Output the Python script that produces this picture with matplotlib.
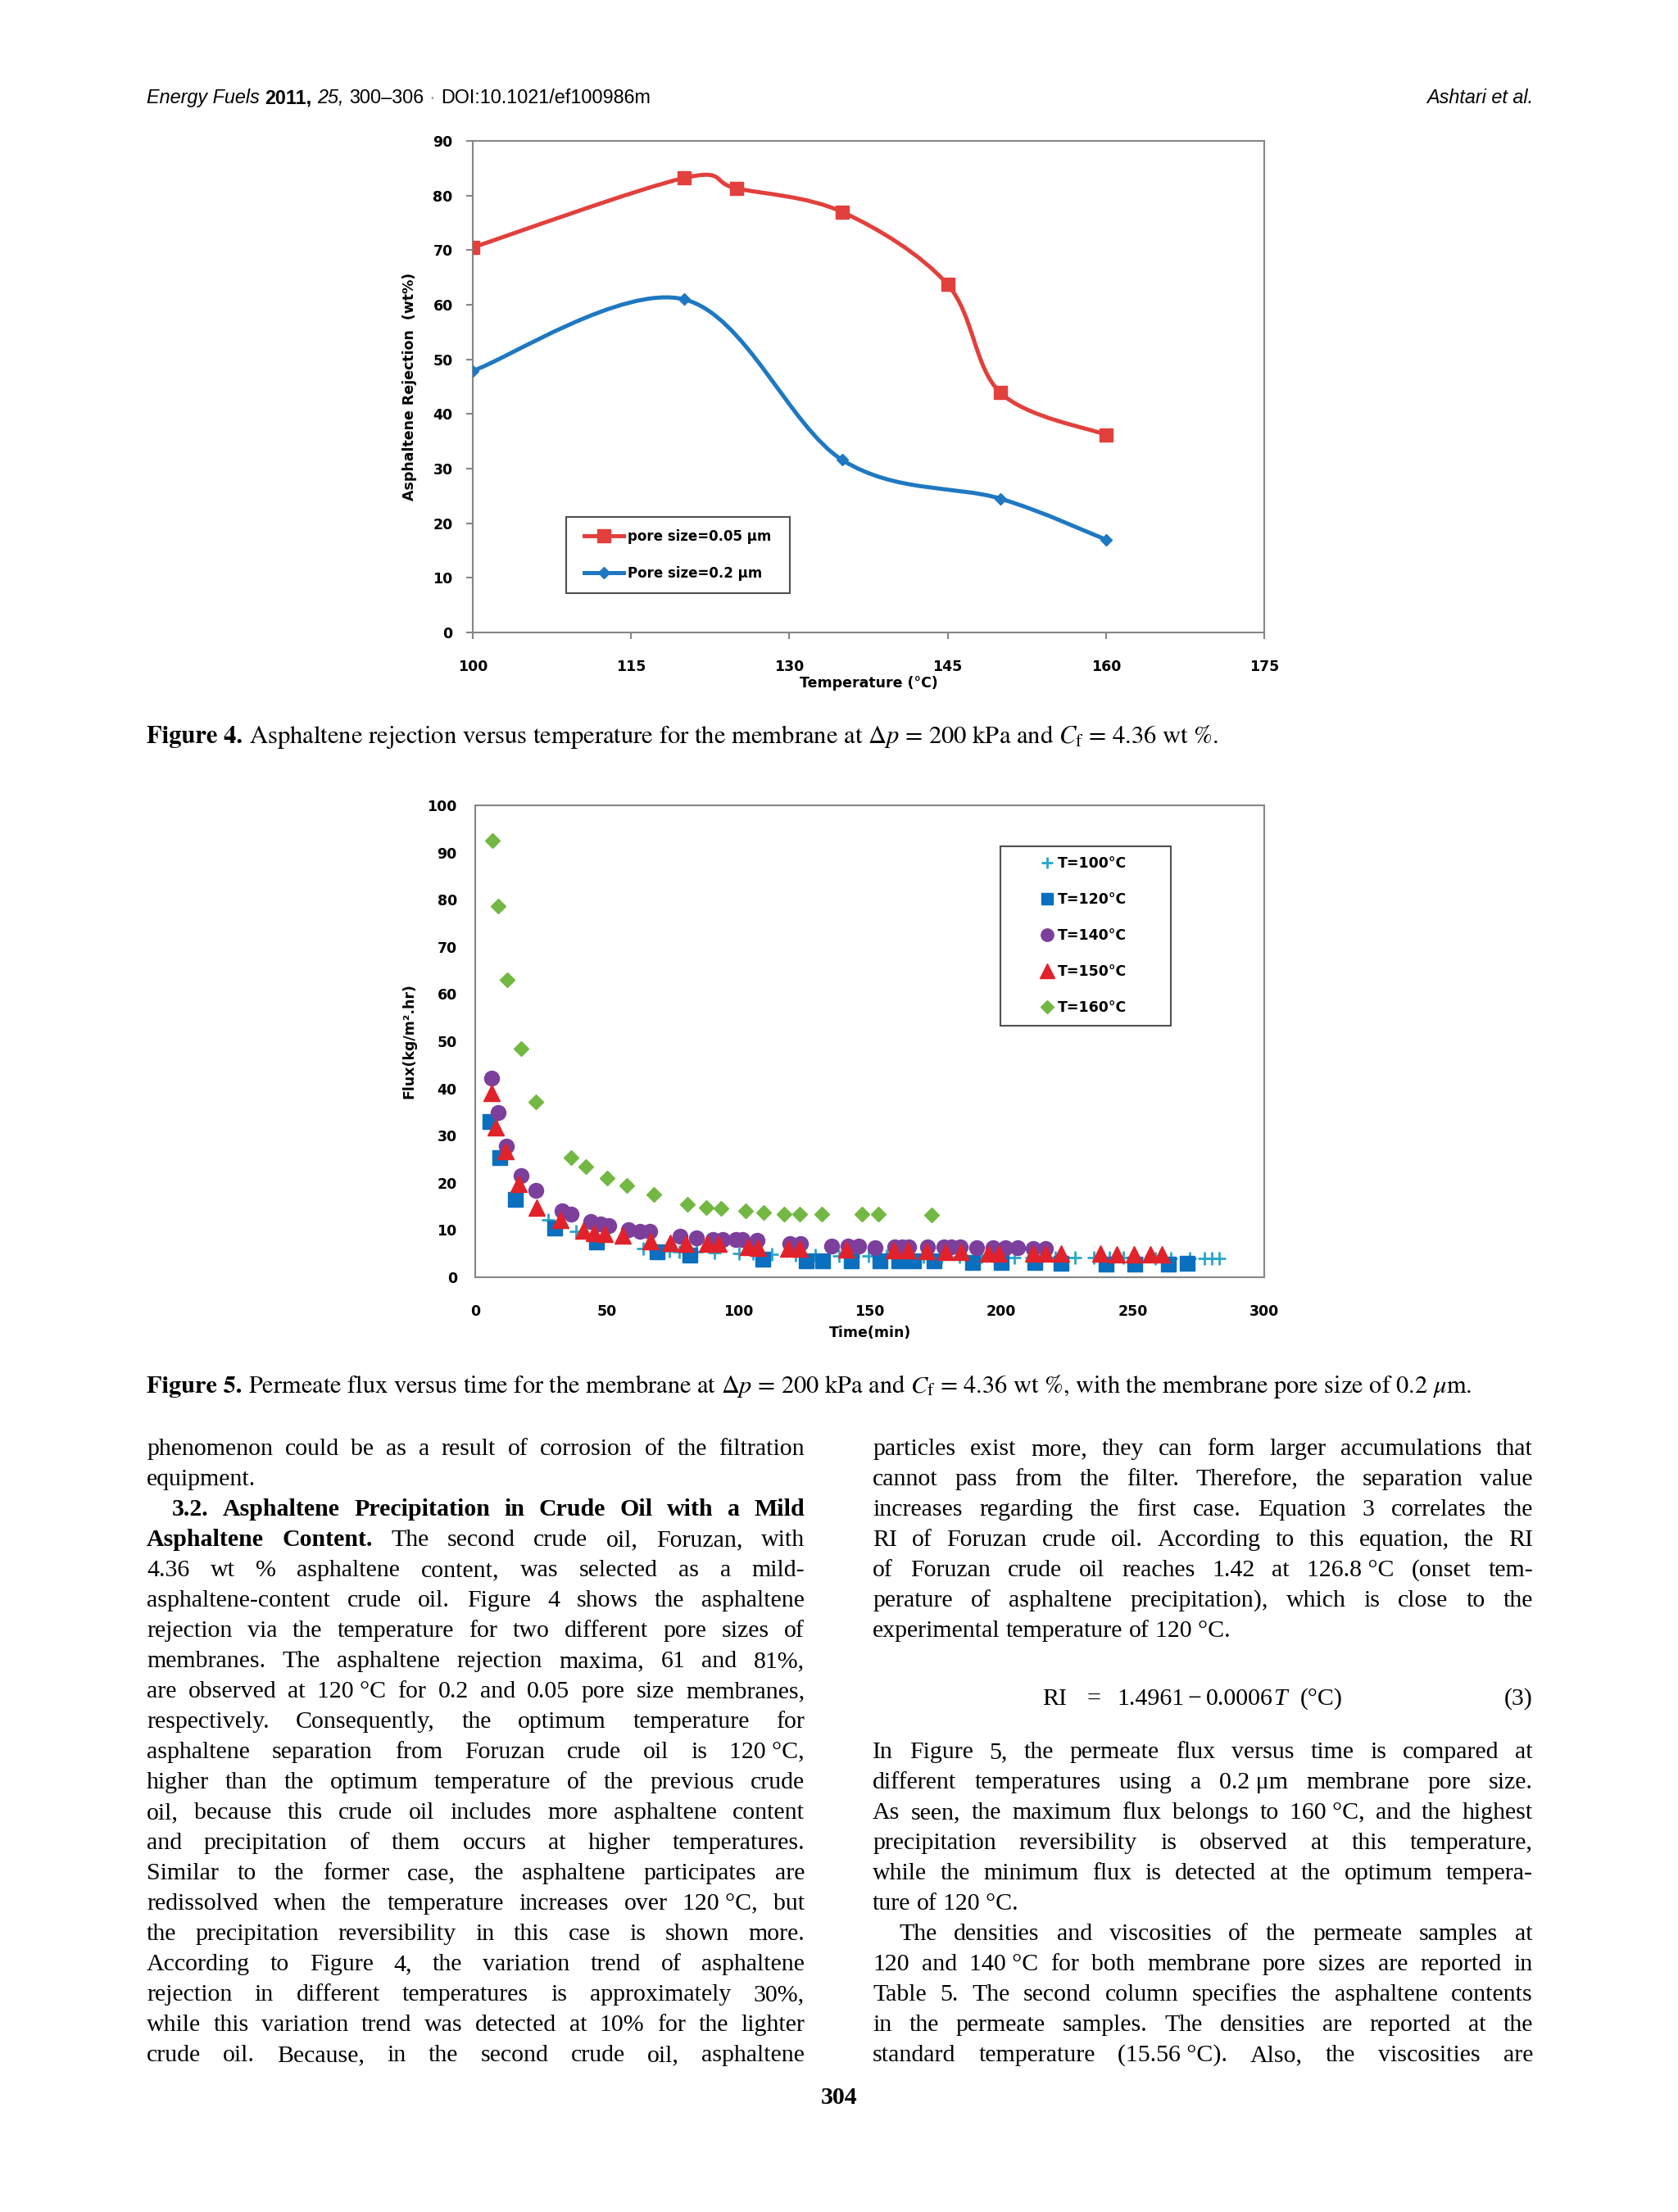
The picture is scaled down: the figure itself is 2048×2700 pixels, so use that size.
import numpy as np
import matplotlib
matplotlib.use('Agg')
import matplotlib.pyplot as plt
from matplotlib.path import Path
from matplotlib.patches import PathPatch, Rectangle
from matplotlib.transforms import Affine2D
from matplotlib.lines import Line2D

plt.rcParams['mathtext.fontset'] = 'stix'

# ---- Figure 4 data: asphaltene rejection (wt%) vs temperature (C)
temp_005 = [100, 120, 125, 135, 145, 150, 160]
rej_005 = [70.5, 83.2, 81.3, 77.0, 63.7, 43.9, 36.2]
temp_02 = [100, 120, 135, 150, 160]
rej_02 = [47.9, 61.0, 31.6, 24.5, 17.0]
fig4_labels = ['pore size=0.05 \u00b5m', 'Pore size=0.2 \u00b5m']

# ---- Figure 5 data: flux (kg/m2.hr) vs time (min)
t100 = [27.8, 38.2, 63.8, 68.5, 73.8, 77.5, 84.0, 91.0, 100.2, 105.5,
        112.8, 121.8, 129.2, 138.3, 143.5, 149.6, 156.5, 164.0, 170.5, 177.3,
        184.0, 192.5, 198.0, 205.0, 211.5, 220.5, 228.0, 235.3, 241.0, 246.3,
        251.5, 258.6, 264.5, 271.6, 277.3, 280.1, 282.9]
f100 = [12.1, 9.7, 6.0, 5.8, 5.5, 5.4, 5.3, 5.2, 5.0, 5.0,
        4.9, 4.7, 4.7, 4.6, 4.6, 4.5, 4.5, 4.4, 4.4, 4.3,
        4.3, 4.3, 4.2, 4.2, 4.2, 4.2, 4.1, 4.1, 4.1, 4.1,
        4.1, 4.0, 4.0, 4.0, 4.0, 4.0, 4.0]
t120 = [5.5, 9.2, 15.4, 30.2, 46.2, 69.3, 81.7, 109.2, 126.0, 132.2, 143.1, 153.8,
        161.0, 166.6, 174.5, 189.0, 200.0, 212.7, 222.6, 239.9, 250.9, 263.4, 270.6]
f120 = [33.0, 25.3, 16.5, 10.4, 7.5, 5.4, 4.7, 3.8, 3.5, 3.5, 3.5, 3.4,
        3.4, 3.4, 3.4, 3.1, 3.1, 3.1, 2.9, 2.7, 2.7, 2.7, 2.9]
t140 = [6.1, 8.6, 11.8, 17.3, 23.2, 32.9, 36.5, 43.9, 47.8, 50.8, 58.3, 62.7, 66.4,
        77.9, 84.1, 90.4, 94.2, 99.2, 101.5, 107.1, 119.5, 123.7, 135.6, 141.7, 145.7,
        151.9, 159.4, 162.2, 164.7, 172.1, 178.2, 181.0, 184.4, 190.6, 196.9, 201.6,
        206.2, 212.3, 216.7]
f140 = [42.2, 34.9, 27.8, 21.6, 18.4, 14.1, 13.4, 11.8, 11.2, 11.0, 10.1, 9.8, 9.7,
        8.6, 8.3, 8.0, 8.0, 7.9, 7.9, 7.8, 7.2, 7.1, 6.6, 6.6, 6.6,
        6.3, 6.4, 6.4, 6.4, 6.4, 6.4, 6.4, 6.4, 6.3, 6.3, 6.3,
        6.2, 6.1, 6.1]
t150 = [6.1, 7.9, 11.6, 16.4, 23.3, 32.5, 41.0, 45.2, 49.2, 56.2, 66.8, 74.1, 80.1,
        88.1, 92.5, 103.8, 107.6, 119.0, 123.5, 141.0, 159.2, 164.4, 171.8, 178.8,
        184.8, 195.0, 199.0, 212.3, 216.7, 222.8, 237.7, 243.9, 250.4, 256.6, 261.0]
f150 = [39.0, 31.8, 26.8, 19.8, 14.7, 12.1, 9.9, 9.4, 9.2, 8.9, 7.7, 7.3, 7.1,
        7.1, 7.1, 6.4, 6.3, 6.1, 6.1, 5.9, 5.7, 5.7, 5.5, 5.4,
        5.4, 5.1, 5.1, 5.1, 5.1, 5.0, 5.0, 4.8, 4.8, 4.8, 4.8]
t160 = [6.6, 8.8, 12.3, 17.3, 23.2, 36.4, 42.1, 50.2, 57.5, 67.8, 80.7, 87.7, 93.4,
        102.9, 109.6, 117.3, 123.5, 131.8, 147.1, 153.3, 173.5]
f160 = [92.6, 78.6, 63.1, 48.4, 37.1, 25.4, 23.4, 21.0, 19.4, 17.5, 15.5, 14.8, 14.6,
        14.0, 13.7, 13.4, 13.4, 13.4, 13.4, 13.4, 13.2]
fig5_labels = ['T=100\u00b0C', 'T=120\u00b0C', 'T=140\u00b0C', 'T=150\u00b0C', 'T=160\u00b0C']

RED = '#E2403C'
BLUE = '#1E78C2'
GRAY = '#868686'
SANS = 'DejaVu Sans'
SERIF = 'Liberation Serif'
CAP = 'STIXGeneral'
HEAD = ['Liberation Sans Narrow', 'Liberation Sans']

W, H = 2048, 2700
fig = plt.figure(figsize=(W / 100, H / 100), dpi=100)
fig.patch.set_facecolor('white')
renderer = fig.canvas.get_renderer()
px = Affine2D().scale(1 / W, -1 / H).translate(0, 1) + fig.transFigure


def rect(l, t, r, b):
    return [l / W, 1 - b / H, (r - l) / W, (b - t) / H]


def put(x, y, s, **kw):
    return fig.text(x, y, s, transform=px, **kw)


def width(a):
    return a.get_window_extent(renderer).width


def space(size, family, weight='normal'):
    a = put(0, 0, 'n n', fontsize=size, family=family, weight=weight)
    b = put(0, 0, 'nn', fontsize=size, family=family, weight=weight)
    w = width(a) - width(b)
    a.remove()
    b.remove()
    return w


def runs(x, y, parts, size, family, target=None, ha='left'):
    arts = [put(0, y, s, fontsize=size, family=family, va='baseline', **kw) for s, kw in parts]
    gap = space(size, family)
    total = sum(width(a) for a in arts) + gap * (len(arts) - 1)
    if target:
        size = size * target / total
        for a in arts:
            a.set_fontsize(size)
        gap = space(size, family)
    ws = [width(a) for a in arts]
    total = sum(ws) + gap * (len(arts) - 1)
    if ha == 'right':
        x -= total
    for a, w in zip(arts, ws):
        a.set_x(x)
        x += w + gap
    return size


def smooth(ax, xs, ys, **kw):
    # Excel style smoothed line through the points (cubic bezier segments)
    p = np.column_stack([xs, ys]).astype(float)
    n = len(p)
    verts = [p[0]]
    codes = [Path.MOVETO]
    for i in range(n - 1):
        p0 = p[max(i - 1, 0)]
        p3 = p[min(i + 2, n - 1)]
        verts += [p[i] + (p[i + 1] - p0) / 6, p[i + 1] - (p3 - p[i]) / 6, p[i + 1]]
        codes += [Path.CURVE4] * 3
    ax.add_patch(PathPatch(Path(verts, codes), fill=False, **kw))


def style_axes(ax):
    for sp in ax.spines.values():
        sp.set_color(GRAY)
        sp.set_linewidth(1.5)
    for lab in ax.get_xticklabels() + ax.get_yticklabels():
        lab.set_fontweight('bold')
        lab.set_family(SANS)


# ---------------- Figure 4 ----------------
ax1 = fig.add_axes(rect(577, 172, 1543, 772))
ax1.set_xlim(100, 175)
ax1.set_ylim(0, 90)
ax1.set_xticks(range(100, 176, 15))
ax1.set_yticks(range(0, 91, 10))
ax1.tick_params(direction='out', length=6, width=1.5, color=GRAY, labelsize=12.5)
ax1.tick_params(axis='x', pad=18)
ax1.tick_params(axis='y', pad=11.5)
style_axes(ax1)

smooth(ax1, temp_005, rej_005, color=RED, lw=3.6, zorder=2)
smooth(ax1, temp_02, rej_02, color=BLUE, lw=3.6, zorder=2)
ax1.plot(temp_005, rej_005, ls='none', marker='s', ms=12, color=RED, zorder=3)
ax1.plot(temp_02, rej_02, ls='none', marker='D', ms=7.5, color=BLUE, zorder=3)

ax1.set_xlabel('Temperature (\u00b0C)', fontsize=12.5, fontweight='bold', family=SANS)
ax1.xaxis.label.set_va('center')
ax1.xaxis.set_label_coords(0.5, (772 - 834) / 600)
ax1.set_ylabel('Asphaltene Rejection  (wt%)', fontsize=12.5, fontweight='bold', family=SANS)
ax1.yaxis.label.set_va('center')
ax1.yaxis.set_label_coords((500 - 577) / 966, 0.5)

h1 = [Line2D([], [], color=RED, lw=3.6, marker='s', ms=11),
      Line2D([], [], color=BLUE, lw=3.6, marker='D', ms=7)]
ax1.legend(h1, fig4_labels, loc='center', bbox_to_anchor=((827.5 - 577) / 966, (772 - 677.5) / 600),
           frameon=False, handlelength=2.9, handletextpad=0.3, labelspacing=1.6, borderpad=0,
           prop=dict(family=SANS, weight='bold', size=12))
ax1.add_patch(Rectangle(((691 - 577) / 966, (772 - 724) / 600), 273 / 966, 93 / 600,
                        transform=ax1.transAxes, fill=False, ec='#505050', lw=1.5, zorder=5))

# ---------------- Figure 5 ----------------
ax2 = fig.add_axes(rect(580, 983, 1543, 1559))
ax2.set_xlim(0, 300)
ax2.set_ylim(0, 100)
ax2.set_xticks(range(0, 301, 50))
ax2.set_yticks(range(0, 101, 10))
ax2.tick_params(length=0, labelsize=12.5)
ax2.tick_params(axis='x', pad=24)
ax2.tick_params(axis='y', pad=16)
style_axes(ax2)

series = [(t100, f100, '+', '#27A6C9', 12, dict(mew=2.0)),
          (t120, f120, 's', '#0A6FBE', 12.5, {}),
          (t140, f140, 'o', '#7C3F9C', 13, {}),
          (t150, f150, '^', '#E2222A', 15, {}),
          (t160, f160, 'D', '#72B843', 9, {})]
h2 = []
for xs, ys, mk, col, ms, extra in series:
    ax2.plot(xs, ys, ls='none', marker=mk, ms=ms, color=col, mec=col, **extra)
    h2.append(Line2D([], [], ls='none', marker=mk, ms=ms * 0.85, color=col, mec=col, **extra))

ax2.set_xlabel('Time(min)', fontsize=12.5, fontweight='bold', family=SANS)
ax2.xaxis.label.set_va('center')
ax2.xaxis.set_label_coords(0.5, (1559 - 1627) / 576)
ax2.set_ylabel('Flux(kg/m\u00b2.hr)', fontsize=12.5, fontweight='bold', family=SANS)
ax2.yaxis.label.set_va('center')
ax2.yaxis.set_label_coords((499 - 580) / 963, 0.5)

ax2.legend(h2, fig5_labels, loc='center', bbox_to_anchor=((1322 - 580) / 963, (1559 - 1142) / 576),
           frameon=False, handlelength=1.0, handletextpad=0.25, labelspacing=1.5, borderpad=0,
           prop=dict(family=SANS, weight='bold', size=12.5))
ax2.add_patch(Rectangle(((1221 - 580) / 963, (1559 - 1252) / 576), 208 / 963, 219 / 576,
                        transform=ax2.transAxes, fill=False, ec='#505050', lw=1.5, zorder=5))

# ---------------- header ----------------
head = [('Energy Fuels', dict(style='italic')),
        ('2011,', dict(weight='bold')),
        ('25,', dict(style='italic')),
        ('300\u2013306', {}),
        ('\u00b7', dict(color='#999999')),
        ('DOI:10.1021/ef100986m', {})]
hs = runs(179, 126, head, 16, HEAD, target=616)
runs(1871, 126, [('Ashtari et al.', dict(style='italic'))], hs, HEAD, ha='right')

# ---------------- captions ----------------
cap4 = [('Figure 4.', dict(weight='bold')),
        (r'Asphaltene rejection versus temperature for the membrane at $\Delta p$ = 200 kPa '
         r'and $C_\mathrm{f}$ = 4.36 wt %.', {})]
cap5 = [('Figure 5.', dict(weight='bold')),
        (r'Permeate flux versus time for the membrane at $\Delta p$ = 200 kPa and '
         r'$C_\mathrm{f}$ = 4.36 wt %, with the membrane pore size of 0.2 $\mu$m.', {})]
runs(179, 907, cap4, 20, CAP, target=1308)
runs(179, 1700, cap5, 20, CAP, target=1617)

# ---------------- body text ----------------
left_lines = [
    'phenomenon could be as a result of corrosion of the filtration',
    'equipment.',
    '3.2. Asphaltene Precipitation in Crude Oil with a Mild',
    'Asphaltene Content. The second crude oil, Foruzan, with',
    '4.36 wt % asphaltene content, was selected as a mild-',
    'asphaltene-content crude oil. Figure 4 shows the asphaltene',
    'rejection via the temperature for two different pore sizes of',
    'membranes. The asphaltene rejection maxima, 61 and 81%,',
    'are observed at 120\u00a0\u00b0C for 0.2 and 0.05 pore size membranes,',
    'respectively. Consequently, the optimum temperature for',
    'asphaltene separation from Foruzan crude oil is 120\u00a0\u00b0C,',
    'higher than the optimum temperature of the previous crude',
    'oil, because this crude oil includes more asphaltene content',
    'and precipitation of them occurs at higher temperatures.',
    'Similar to the former case, the asphaltene participates are',
    'redissolved when the temperature increases over 120\u00a0\u00b0C, but',
    'the precipitation reversibility in this case is shown more.',
    'According to Figure 4, the variation trend of asphaltene',
    'rejection in different temperatures is approximately 30%,',
    'while this variation trend was detected at 10% for the lighter',
    'crude oil. Because, in the second crude oil, asphaltene',
]
right_lines = [
    'particles exist more, they can form larger accumulations that',
    'cannot pass from the filter. Therefore, the separation value',
    'increases regarding the first case. Equation 3 correlates the',
    'RI of Foruzan crude oil. According to this equation, the RI',
    'of Foruzan crude oil reaches 1.42 at 126.8\u00a0\u00b0C (onset tem-',
    'perature of asphaltene precipitation), which is close to the',
    'experimental temperature of 120\u00a0\u00b0C.',
    'In Figure 5, the permeate flux versus time is compared at',
    'different temperatures using a 0.2\u00a0\u03bcm membrane pore size.',
    'As seen, the maximum flux belongs to 160\u00a0\u00b0C, and the highest',
    'precipitation reversibility is observed at this temperature,',
    'while the minimum flux is detected at the optimum tempera-',
    'ture of 120\u00a0\u00b0C.',
    'The densities and viscosities of the permeate samples at',
    '120 and 140\u00a0\u00b0C for both membrane pore sizes are reported in',
    'Table 5. The second column specifies the asphaltene contents',
    'in the permeate samples. The densities are reported at the',
    'standard temperature (15.56\u00a0\u00b0C). Also, the viscosities are',
]
left_rows = list(range(21))
right_rows = list(range(7)) + list(range(10, 21))

BASE0, LEAD = 1776, 37.0
BODY = 21.5

columns = [
    (left_lines, left_rows, 179, 982, {1}, {2: 210}, {2: 99, 3: 2}),
    (right_lines, right_rows, 1065, 1871, {6, 15}, {16: 1097}, {}),
]

items = []
for lines, rows, x0, x1, last, indent, bold in columns:
    for line, r in zip(lines, rows):
        words = line.split(' ')
        nb = bold.get(r, 0)
        arts = [put(0, BASE0 + r * LEAD, w, fontsize=BODY, family=SERIF, va='baseline',
                    weight='bold' if k < nb else 'normal') for k, w in enumerate(words)]
        items.append((arts, indent.get(r, x0), x1, r in last))

# shrink the body size if some line would not fit its column
em = BODY * 100 / 72
need = max((sum(width(a) for a in arts) + 0.2 * em * (len(arts) - 1)) / (x1 - xs)
           for arts, xs, x1, _ in items)
if need > 1:
    BODY = BODY / need
    for arts, _, _, _ in items:
        for a in arts:
            a.set_fontsize(BODY)

sp_body = space(BODY, SERIF)
for arts, xs, x1, is_last in items:
    ws = [width(a) for a in arts]
    if is_last or len(arts) == 1:
        gap = sp_body
    else:
        gap = (x1 - xs - sum(ws)) / (len(arts) - 1)
    x = xs
    for a, w in zip(arts, ws):
        a.set_x(x)
        x += w + gap

# equation (3)
eq_y = 2081
eq = [(1272, 'RI', {}), (1326, '=', {}), (1363, '1.4961', {}), (1450, '\u2212', {}),
      (1472, '0.0006', {})]
last_art = None
for x, s, kw in eq:
    last_art = put(x, eq_y, s, fontsize=BODY, family=SERIF, va='baseline', **kw)
tx = 1472 + width(last_art)
t_art = put(tx, eq_y, 'T', fontsize=BODY, family=SERIF, style='italic', va='baseline')
put(tx + width(t_art) + 16, eq_y, '(\u00b0C)', fontsize=BODY, family=SERIF, va='baseline')
put(1871, eq_y, '(3)', fontsize=BODY, family=SERIF, va='baseline', ha='right')

# page number
put(1024, 2568, '304', fontsize=BODY, family=SERIF, weight='bold', va='baseline', ha='center')

fig.savefig('out.png', dpi=100, facecolor='white')
